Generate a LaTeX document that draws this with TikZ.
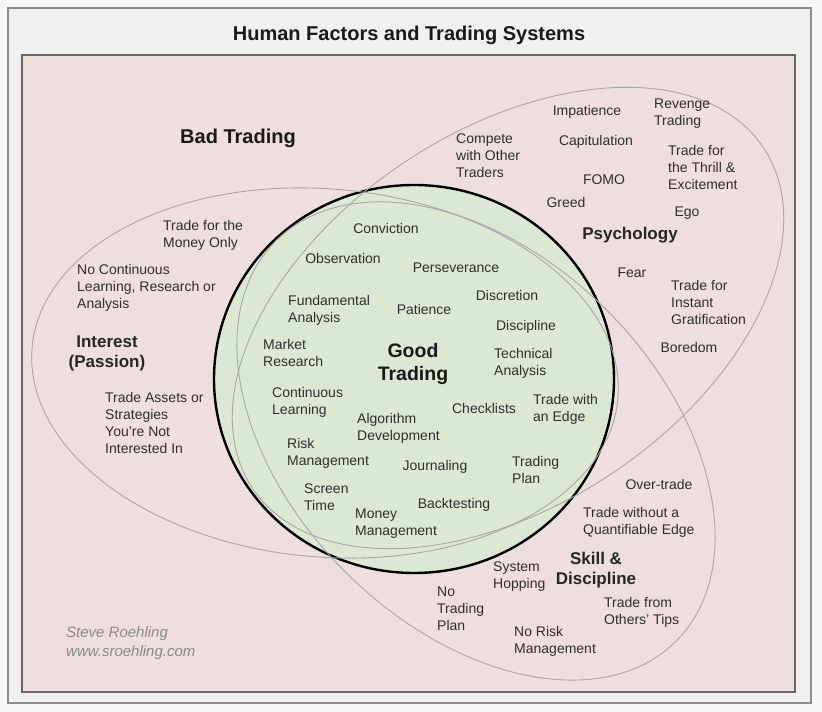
\documentclass[tikz,border=0pt]{standalone}
\usepackage{fontspec}
\setmainfont{Liberation Sans}
\definecolor{bgpink}{HTML}{EFDEDE}
\definecolor{goodgreen}{HTML}{DCE8D4}
\definecolor{txt}{HTML}{2E2E2E}
\definecolor{ring}{HTML}{A6A6A6}
\definecolor{credit}{HTML}{8A8A8A}
\tikzset{
  item/.style={inner sep=0pt, align=left, text=txt, font=\fontsize{14}{17}\selectfont},
  head/.style={inner sep=0pt, align=center, text=black!85, font=\bfseries\fontsize{17}{20}\selectfont},
  big/.style={inner sep=0pt, align=center, text=black!90, font=\bfseries\fontsize{20}{23}\selectfont},
  set/.style={draw=ring, line width=0.9pt},
}

\begin{document}
\begin{tikzpicture}[x=1pt,y=1pt]
    \useasboundingbox (0,0) rectangle (822,712);
    \fill [black!3] (0,0) rectangle (822,712);
    \filldraw [fill=black!6, draw=black!45, line width=1.2pt] (8,9) rectangle (811,704);
    \filldraw [fill=bgpink, draw=black!60, line width=1.8pt] (22,20) rectangle (795,657);
    \node [big] (title) at (409,677) {Human Factors and Trading Systems};

    \filldraw [fill=goodgreen, draw=black, line width=2.4pt] (414,333) ellipse [x radius=200pt, y radius=194pt];
    \draw [set] (325,339) ellipse [x radius=294pt, y radius=184pt, rotate=-5];
    \draw [set] (508,394) ellipse [x radius=307pt, y radius=187pt, rotate=33.7];
    \draw [set] (476,271) ellipse [x radius=283pt, y radius=185pt, rotate=-45];

    \node [big] (bad) at (238,574) {Bad Trading};
    \node [big, font=\bfseries\fontsize{19.5}{23}\selectfont] (good) at (413,348) {Good\\Trading};
    \node [head] (psych) at (630,477) {Psychology};
    \node [head] (interest) at (107,359) {Interest\\(Passion)};
    \node [head] (skill) at (596,142) {Skill \&\\Discipline};

    \node [item, anchor=west] (compete) at (456,556) {Compete\\with Other\\Traders};
    \node [item] (impatience) at (587,600) {Impatience};
    \node [item, anchor=west] (revenge) at (654,598) {Revenge\\Trading};
    \node [item] (capitulation) at (596,570) {Capitulation};
    \node [item, anchor=west] (thrill) at (668,544) {Trade for\\the Thrill \&\\Excitement};
    \node [item] (fomo) at (604,532) {FOMO};
    \node [item] (greed) at (566,509) {Greed};
    \node [item] (ego) at (687,499) {Ego};
    \node [item] (fear) at (632,439) {Fear};
    \node [item, anchor=west] (instant) at (671,409) {Trade for\\Instant\\Gratification};
    \node [item] (boredom) at (689,364) {Boredom};

    \node [item] (conviction) at (386,483) {Conviction};
    \node [item] (observation) at (343,453) {Observation};
    \node [item] (perseverance) at (456,444) {Perseverance};
    \node [item, anchor=west] (fundamental) at (288,402) {Fundamental\\Analysis};
    \node [item] (patience) at (424,402) {Patience};
    \node [item] (discretion) at (507,416) {Discretion};
    \node [item] (discipline) at (526,385) {Discipline};
    \node [item, anchor=west] (market) at (263,358.5) {Market\\Research};
    \node [item, anchor=west] (technical) at (494,348.5) {Technical\\Analysis};
    \node [item, anchor=west] (learning) at (272,309.5) {Continuous\\Learning};
    \node [item] (checklists) at (484,303) {Checklists};
    \node [item, anchor=west] (edge) at (533,302.5) {Trade with\\an Edge};
    \node [item, anchor=west] (algorithm) at (357,283.5) {Algorithm\\Development};
    \node [item, anchor=west] (risk) at (287,258.5) {Risk\\Management};
    \node [item] (journaling) at (435,245) {Journaling};
    \node [item, anchor=west] (plan) at (512,242) {Trading\\Plan};
    \node [item, anchor=west] (screen) at (304,214.5) {Screen\\Time};
    \node [item] (backtesting) at (454,207) {Backtesting};
    \node [item, anchor=west] (money) at (355,188.5) {Money\\Management};

    \node [item] (overtrade) at (659,228) {Over-trade};
    \node [item, anchor=west] (quantifiable) at (583,190) {Trade without a\\Quantifiable Edge};
    \node [item, anchor=west] (hopping) at (493,135.5) {System\\Hopping};
    \node [item, anchor=west] (noplan) at (437,103) {No\\Trading\\Plan};
    \node [item, anchor=west] (tips) at (604,99.5) {Trade from\\Others’ Tips};
    \node [item, anchor=west] (norisk) at (514,70.5) {No Risk\\Management};

    \node [item, anchor=west] (moneyonly) at (163,476.5) {Trade for the\\Money Only};
    \node [item, anchor=west] (nolearning) at (77,424.5) {No Continuous\\Learning, Research or\\Analysis};
    \node [item, anchor=west] (assets) at (105,289) {Trade Assets or\\Strategies\\You’re Not\\Interested In};

    \node [item, anchor=west, text=credit, font=\itshape\fontsize{15}{19}\selectfont] (author) at (66,68.5) {Steve Roehling\\www.sroehling.com};
\end{tikzpicture}
\end{document}
